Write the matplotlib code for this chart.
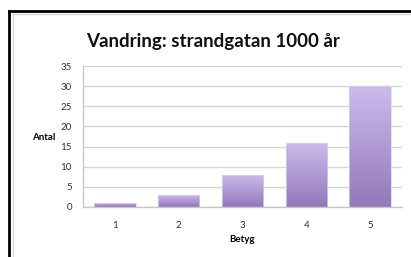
import matplotlib
matplotlib.use('Agg')
import matplotlib.pyplot as plt
from matplotlib.lines import Line2D
from matplotlib.colors import LinearSegmentedColormap
import numpy as np

# data
betyg = ['1', '2', '3', '4', '5']
antal = [1, 3, 8, 16, 30]
yticks = [0, 5, 10, 15, 20, 25, 30, 35]

W, H = 411, 257
fig = plt.figure(figsize=(W / 100, H / 100), dpi=100)
plt.rcParams['font.family'] = ['Lato', 'DejaVu Sans']

# screenshot frame
fig.add_artist(Line2D([9.3 / W, 9.3 / W], [0, 1 - 11 / H], color='black', lw=2.0,
                      solid_capstyle='projecting'))
fig.add_artist(Line2D([9.3 / W, 1], [1 - 11 / H, 1 - 11 / H], color='black', lw=2.0,
                      solid_capstyle='projecting'))
fig.add_artist(Line2D([12.5 / W, 12.5 / W], [0, 1 - 13.5 / H], color='#d0d0d0', lw=0.8))
fig.add_artist(Line2D([12.5 / W, 1], [1 - 13.5 / H, 1 - 13.5 / H], color='#d0d0d0', lw=0.8))

ax = fig.add_axes([83 / W, 1 - 207 / H, 319 / W, 141 / H])
x = np.arange(len(betyg))
cmap = LinearSegmentedColormap.from_list('purp', ['#9378ba', '#cdbbec'])
bars = ax.bar(x, antal, width=0.65, color='none', edgecolor='#ddd0f0', linewidth=0.5, zorder=3)
grad = np.linspace(0, 1, 256).reshape(-1, 1)
for b in bars:
    im = ax.imshow(grad, cmap=cmap, origin='lower', aspect='auto', zorder=2,
                   extent=[b.get_x(), b.get_x() + b.get_width(), 0, b.get_height()])
    im.set_clip_path(b)

ax.set_xlim(-0.5, len(betyg) - 0.5)
ax.set_ylim(0, 35)
ax.set_yticks(yticks)
ax.set_xticks(x)
ax.set_xticklabels(betyg)
ax.grid(axis='y', color='#d6d6d6', lw=1.0, zorder=0)
ax.set_axisbelow(True)
for s in ['top', 'right']:
    ax.spines[s].set_visible(False)
for s in ['left', 'bottom']:
    ax.spines[s].set_color('#c8c8c8')
    ax.spines[s].set_linewidth(1.0)
ax.tick_params(length=0, labelsize=7, colors='#333333')
ax.tick_params(axis='x', pad=10)
ax.tick_params(axis='y', pad=8)

fig.text(213 / W, 1 - 42 / H, 'Vandring: strandgatan 1000 år', ha='center', va='center',
         fontsize=13.5, fontweight='bold', color='#111111')
fig.text(43.5 / W, 1 - 138 / H, 'Antal', ha='center', va='center', fontsize=7, fontweight='bold')
fig.text(242 / W, 1 - 240 / H, 'Betyg', ha='center', va='center', fontsize=7, fontweight='bold')

fig.savefig('out.png', dpi=100)
